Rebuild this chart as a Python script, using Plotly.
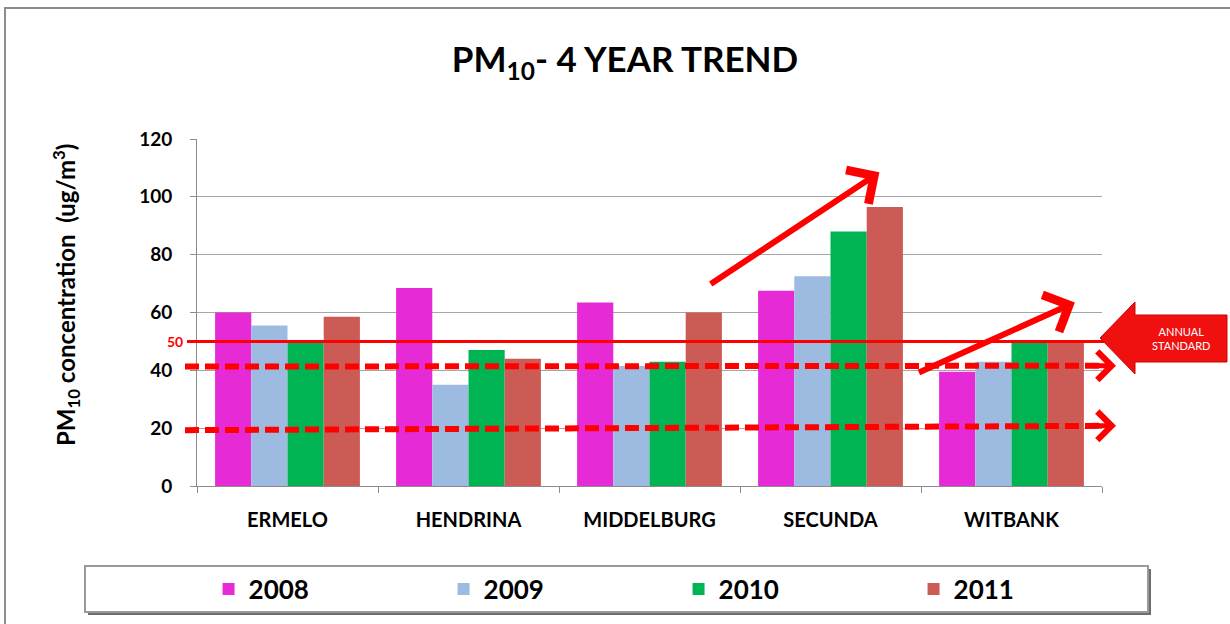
import plotly.graph_objects as go

# ---- data ----
cities = ["ERMELO", "HENDRINA", "MIDDELBURG", "SECUNDA", "WITBANK"]
years = ["2008", "2009", "2010", "2011"]
pm_2008 = [60, 68.5, 63.5, 67.5, 39.5]
pm_2009 = [55.5, 35, 41.5, 72.5, 43]
pm_2010 = [50, 47, 43, 88, 50]
pm_2011 = [58.5, 44, 60, 96.5, 50]
series = [pm_2008, pm_2009, pm_2010, pm_2011]
colors = ["#E62AD6", "#9DBBE0", "#00B454", "#CC5A55"]

annual_standard = 50
dashed_levels_start = [41.3, 19.3]
dashed_levels_end = [41.6, 20.8]
# trend arrows: (x_tail, y_tail, x_head, y_head) in category index / value units
trend_arrows = [
    (2.33, 69.5, 3.27, 108.5),
    (3.48, 39.0, 4.35, 63.5),
]
y_ticks = [0, 20, 40, 60, 80, 100, 120]

FONT = "Lato"

# plot area in pixels
L, R, T, B = 197, 1102, 139, 486
W, H = R - L, B - T


def px(p):
    return (p - L) / W


def py(p):
    return (B - p) / H


fig = go.Figure()
for yr, vals, col in zip(years, series, colors):
    fig.add_trace(go.Bar(
        x=cities, y=vals, name=f"<b>{yr}</b>",
        marker=dict(color=col, line=dict(width=0)),
    ))

shapes = []
# outer border
shapes.append(dict(type="rect", xref="paper", yref="paper",
                   x0=px(5), x1=px(1240), y0=py(8), y1=py(640),
                   line=dict(color="#8C8C8C", width=2), layer="below"))
# legend box shadow + box
shapes.append(dict(type="rect", xref="paper", yref="paper",
                   x0=px(88), x1=px(1151), y0=py(569), y1=py(615),
                   line=dict(width=0), fillcolor="#6E6E6E", layer="below"))
shapes.append(dict(type="rect", xref="paper", yref="paper",
                   x0=px(85), x1=px(1148), y0=py(566), y1=py(612),
                   line=dict(color="#9A9A9A", width=2), fillcolor="white", layer="below"))
# annual standard line
shapes.append(dict(type="line", xref="paper", yref="y",
                   x0=px(187), x1=px(1104), y0=annual_standard, y1=annual_standard,
                   line=dict(color="#FF0000", width=3)))
# dashed reference lines
for y0, y1 in zip(dashed_levels_start, dashed_levels_end):
    shapes.append(dict(type="line", xref="paper", yref="y",
                       x0=px(185), x1=px(1100), y0=y0, y1=y1,
                       line=dict(color="#FF0000", width=6, dash="14px,6px")))
# annual standard arrow box
pts = [(1100, 338), (1135, 302), (1135, 315), (1227, 315), (1227, 362),
       (1135, 362), (1135, 374)]
path = "M " + " L ".join(f"{px(a):.5f},{py(b):.5f}" for a, b in pts) + " Z"
shapes.append(dict(type="path", xref="paper", yref="paper", path=path,
                   fillcolor="#F01010", line=dict(color="#D00000", width=1)))

annotations = []
# trend arrows
for xt, yt, xh, yh in trend_arrows:
    annotations.append(dict(x=xh, y=yh, ax=xt, ay=yt, xref="x", yref="y",
                            axref="x", ayref="y", text="", showarrow=True,
                            arrowhead=4, arrowsize=1.3, arrowwidth=6,
                            arrowcolor="#FF0000"))
# arrowheads on dashed lines
for y1 in dashed_levels_end:
    annotations.append(dict(x=px(1116), y=y1, ax=-24, ay=0,
                            xref="paper", yref="y", axref="pixel", ayref="pixel",
                            text="", showarrow=True, arrowhead=4, arrowsize=1.1,
                            arrowwidth=5, arrowcolor="#FF0000"))
# "50" label
annotations.append(dict(x=px(185), y=annual_standard, xref="paper", yref="y",
                        text="<b>50</b>", showarrow=False, xanchor="right",
                        yanchor="middle",
                        font=dict(family=FONT, size=14, color="#FF0000")))
# annual standard text
annotations.append(dict(x=px(1181), y=py(338), xref="paper", yref="paper",
                        text="ANNUAL<br>STANDARD", showarrow=False,
                        xanchor="center", yanchor="middle",
                        font=dict(family=FONT, size=11, color="white")))
# y-axis title
annotations.append(dict(x=px(66), y=py(295), xref="paper", yref="paper",
                        text="<b>PM<sub>10</sub> concentration  (ug/m<sup>3</sup>)</b>",
                        showarrow=False, textangle=-90,
                        xanchor="center", yanchor="middle",
                        font=dict(family=FONT, size=24, color="black")))

fig.update_layout(
    width=1230, height=624,
    margin=dict(l=L, r=1230 - R, t=T, b=624 - B, pad=0),
    paper_bgcolor="white", plot_bgcolor="white",
    barmode="group", bargap=0.2, bargroupgap=0,
    title=dict(text="<b>PM<sub>10</sub>- 4 YEAR TREND</b>",
               x=625 / 1230, y=1 - 60 / 624, xref="container", yref="container",
               xanchor="center", yanchor="middle",
               font=dict(family=FONT, size=35, color="black")),
    showlegend=True,
    legend=dict(orientation="h", x=-0.0005, y=py(589), xanchor="left",
                yanchor="middle", entrywidth=178, entrywidthmode="pixels",
                indentation=12,
                bgcolor="rgba(0,0,0,0)", borderwidth=0,
                font=dict(family=FONT, size=26, color="black"),
                itemclick=False),
    xaxis=dict(showgrid=False, showline=True, linecolor="#8C8C8C", linewidth=1,
               ticks="outside", tickson="boundaries", ticklen=6, tickcolor="#8C8C8C",
               tickfont=dict(family=FONT, size=20, color="black"),
               ticklabelstandoff=16, tickprefix="<b>", ticksuffix="</b>"),
    yaxis=dict(range=[0, 120], tickvals=y_ticks,
               ticktext=[f"<b>{v}</b>" for v in y_ticks],
               showgrid=True, gridcolor="#A6A6A6", gridwidth=1,
               showline=True, linecolor="#8C8C8C", linewidth=1,
               ticks="outside", ticklen=6, tickcolor="#8C8C8C",
               tickfont=dict(family=FONT, size=19, color="black"),
               ticklabelstandoff=14, zeroline=False),
    shapes=shapes, annotations=annotations,
)

fig.write_html("out.html")
